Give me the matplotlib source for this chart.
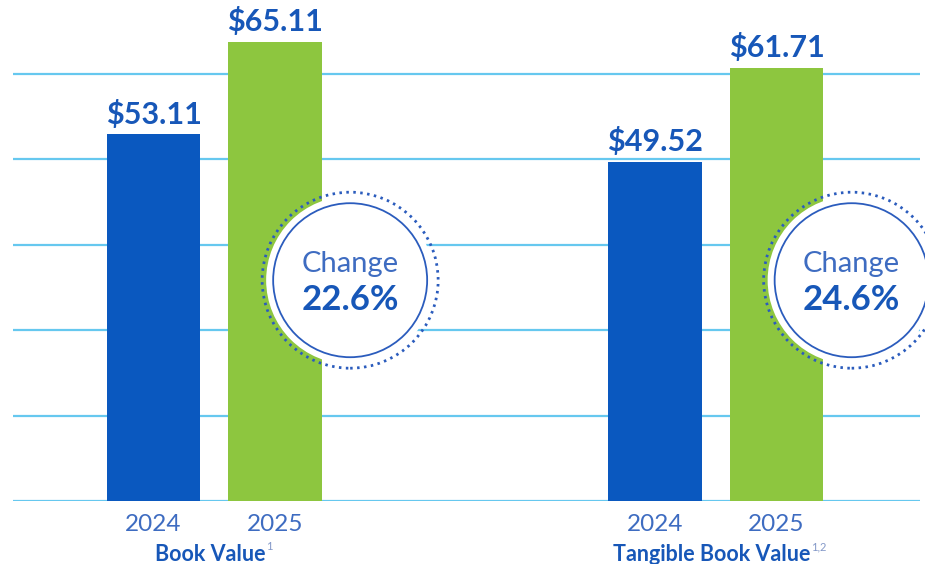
import matplotlib
matplotlib.use("Agg")
import matplotlib.pyplot as plt
import matplotlib.transforms as mtrans
from matplotlib.patches import Circle

# data
groups = ["Book Value", "Tangible Book Value"]
footnotes = ["1", "1,2"]
years = ["2024", "2025"]
values_2024 = [53.11, 49.52]
values_2025 = [65.11, 61.71]
changes = ["22.6%", "24.6%"]

BLUE = "#0a58bf"
GREEN = "#8dc63f"
TEXT_BLUE = "#1757b8"
YEAR_BLUE = "#3e6cc1"
GRID = "#66c8ef"
RING = "#2b5cbd"
FONT = "Lato"

plt.rcParams["font.family"] = [FONT, "DejaVu Sans"]

fig = plt.figure(figsize=(9.25, 5.64), dpi=100)
ax = fig.add_axes([13 / 925, 63 / 564, 907 / 925, 501 / 564])

y_lo, y_step = 5.6, 11.06
ax.set_ylim(y_lo, y_lo + 501 / 7.72)
ax.set_xlim(-0.4013, 1.4073)
ax.set_yticks([y_lo + k * y_step for k in range(6)])
ax.grid(axis="y", color=GRID, lw=1.6, zorder=0)
ax.set_axisbelow(True)
for s in ax.spines.values():
    s.set_visible(False)
ax.tick_params(left=False, labelleft=False, bottom=False)

off, width = 0.121, 0.187
xs = list(range(len(groups)))
x24 = [x - off for x in xs]
x25 = [x + off for x in xs]
ax.bar(x24, values_2024, width, color=BLUE, zorder=2)
ax.bar(x25, values_2025, width, color=GREEN, zorder=2)

for x, v in list(zip(x24, values_2024)) + list(zip(x25, values_2025)):
    ax.annotate(f"${v:.2f}", (x, v), xytext=(0, 4), textcoords="offset points",
                ha="center", va="bottom", fontsize=22, fontweight="bold",
                color=TEXT_BLUE, zorder=4)

ax.set_xticks(x24 + x25, [years[0]] * len(xs) + [years[1]] * len(xs))
ax.tick_params(axis="x", labelsize=17.5, labelcolor=YEAR_BLUE, pad=6)

for x, name, fn in zip(xs, groups, footnotes):
    lab = ax.annotate(name, (x, 0), xycoords=("data", "axes fraction"),
                      xytext=(-3, -31), textcoords="offset points",
                      ha="center", va="top", fontsize=15.5, fontweight="bold",
                      color=TEXT_BLUE)
    ax.annotate(fn, (1, 0.6), xycoords=lab, xytext=(0.5, 0), textcoords="offset points",
                ha="left", va="bottom", fontsize=8, color="#8398c8")

# change badges beside the 2025 bars
for x, ch in zip(x25, changes):
    cx, cy = x + 0.15, 34.2
    tr = fig.dpi_scale_trans + mtrans.ScaledTranslation(cx, cy, ax.transData)
    ax.add_patch(Circle((0, 0), 0.84, transform=tr, facecolor="white",
                        edgecolor="none", zorder=3, clip_on=False))
    ax.add_patch(Circle((0, 0), 0.77, transform=tr, facecolor="white",
                        edgecolor=RING, lw=1.3, zorder=3, clip_on=False))
    ax.add_patch(Circle((0, 0), 0.88, transform=tr, facecolor="none",
                        edgecolor=RING, lw=2.0, linestyle=(0, (0.9, 1.6)),
                        zorder=3, clip_on=False))
    ax.annotate("Change", (cx, cy), xytext=(0, 12), textcoords="offset points",
                ha="center", va="center", fontsize=21, color=YEAR_BLUE, zorder=4)
    ax.annotate(ch, (cx, cy), xytext=(0, -14), textcoords="offset points",
                ha="center", va="center", fontsize=25, fontweight="bold",
                color=TEXT_BLUE, zorder=4)

fig.savefig("out.png", dpi=100)
